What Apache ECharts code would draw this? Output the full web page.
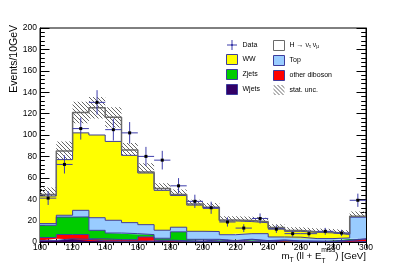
<!DOCTYPE html>
<html><head><meta charset="utf-8">
<script src="https://cdn.jsdelivr.net/npm/echarts@6/dist/echarts.min.js"></script>
<style>html,body{margin:0;padding:0;background:#fff}#c{width:407px;height:269px}</style>
</head><body><div id="c"></div>
<script>
// ---- data ----
const binEdges = [100,110,120,130,140,150,160,170,180,190,200,210,220,230,240,250,260,270,280,290,300];
const wjets   = [1.5, 3.0, 2.5, 1.0, 0.8, 0.8, 0.8, 1.2, 0.5, 0.5, 0.5, 0.3, 0.3, 0.3, 1.3, 0.3, 0.3, 0.3, 1.2, 0.3];
const diboson = [2.7, 4.0, 4.5, 2.0, 1.4, 1.4, 4.0, 0.6, 0.7, 0.5, 1.5, 0.7, 1.9, 0.7, 0.3, 0.5, 0.3, 0.3, 0.3, 2.5];
const zjets   = [11.4, 16.3, 16.4, 7.9, 6.2, 5.6, 2.1, 1.7, 8.3, 1.5, 0.5, 0.5, 0.4, 0.3, 0.3, 0.2, 0.2, 0.2, 0.3, 0.2];
const topq    = [1.6, 1.7, 6.2, 11.8, 11.9, 10.3, 9.3, 7.5, 4.3, 7.5, 7.3, 5.3, 5.2, 6.5, 2.8, 3.5, 2.4, 2.4, 2.0, 20.4];
const ww      = [25.8, 52.0, 72.4, 77.3, 73.7, 62.9, 48.3, 37.3, 29.7, 24.5, 21.7, 12.9, 11.3, 10.2, 7.8, 5.5, 5.8, 5.3, 3.2, 0];
const higgs   = [1.5, 8.0, 19.0, 25.5, 22.5, 5.0, 1.0, 1.7, 1.0, 1.0, 1.0, 0.8, 0.9, 1.0, 1.0, 0.8, 0.6, 0.7, 0.8, 0.6];
const statUnc = [6.5, 9, 10, 10, 9.5, 6.5, 8, 5, 4.5, 4, 4, 3.5, 3.5, 3.5, 3, 3, 3, 3, 3, 4.5];
const dataVals = [41, 72.5, 106, 130.5, 105, 102, 80, 76.5, 52.5, 38, 32, 18.7, 13, 22, 12, 7.8, 7.8, 10, 8.4, 39];
const dataErr  = [6.4, 8.5, 10.3, 11.4, 10.2, 10.1, 8.9, 8.7, 7.2, 6.2, 5.7, 4.3, 3.6, 4.7, 3.5, 2.8, 2.8, 3.2, 2.9, 6.2];
const xMin = 100, xMax = 300, xStep = 20;
const yMin = 0, yMax = 200, yStep = 20;

// ---- helpers ----
const FONT = '"Liberation Sans", Arial, Helvetica, sans-serif';
const LINE = '#3c3c9c';
// step-histogram values on the bin-edge category axis (last bin repeated at the right edge)
function steps(vals){ return vals.concat([vals[vals.length-1]]); }
const totals = binEdges.slice(0,-1).map((_,i)=>wjets[i]+diboson[i]+zjets[i]+topq[i]+ww[i]+higgs[i]);
const uncLow = totals.map((t,i)=>t-statUnc[i]);
const uncBand = statUnc.map(u=>2*u);
const dataPts = dataVals.map((v,i)=>[(binEdges[i]+binEdges[i+1])/2, v, dataErr[i], (binEdges[i+1]-binEdges[i])/2]);

const hatchCanvas = (()=>{ const c=document.createElement('canvas'); c.width=4; c.height=4; const g=c.getContext('2d');
  g.strokeStyle='#666666'; g.lineWidth=1; g.beginPath();
  g.moveTo(0,0); g.lineTo(4,4); g.moveTo(-1,3); g.lineTo(1,5); g.moveTo(3,-1); g.lineTo(5,1); g.stroke(); return c; })();
const hatchFill = { image: hatchCanvas, repeat: 'repeat' };

function histSeries(name, vals, extra){
  return Object.assign({ name, type:'line', xAxisIndex:2, yAxisIndex:0, step:'end', data: steps(vals),
    symbol:'none', silent:true }, extra);
}
function fillSeries(name, vals, color){
  return histSeries(name, vals, { stack:'mc', z:2, lineStyle:{color:LINE, width:1}, itemStyle:{color}, areaStyle:{color, opacity:1} });
}

// x-axis title pieces
const mctx = document.createElement('canvas').getContext('2d');
function tw(t,s){ mctx.font = s+'px '+FONT; return mctx.measureText(t).width; }
const BIG = 9.7, SM = 6.8, XT_RIGHT = 366, YC = 256.5;
function xTitle(){
  const els = [];
  const pieces = [['m',BIG,'n'],['T',SM,'sub'],[' (ll + E',BIG,'n'],['miss',SM,'sup'],[') [GeV]',BIG,'n']];
  const total = pieces.reduce((a,p)=>a+tw(p[0],p[1]),0);
  let x = XT_RIGHT - total;
  pieces.forEach(p=>{
    const yy = p[2]==='sub' ? YC+3.5 : p[2]==='sup' ? YC-6.5 : YC;
    els.push({type:'text', x, y:yy, style:{text:p[0], fontSize:p[1], fontFamily:FONT, fill:'#000',
      align:'left', verticalAlign:'middle', textAlign:'left', textVerticalAlign:'middle'}});
    if (p[2]==='sup') {
      els.push({type:'text', x, y:YC+5, style:{text:'T', fontSize:SM, fontFamily:FONT, fill:'#000',
        align:'left', verticalAlign:'middle', textAlign:'left', textVerticalAlign:'middle'}});
    }
    x += tw(p[0],p[1]);
  });
  return els;
}

const axisCommon = { axisLine:{show:true, lineStyle:{color:'#000', width:1}}, splitLine:{show:false} };
function xTicks(pos, labels){
  return Object.assign({type:'value', min:xMin, max:xMax, interval:xStep, position:pos,
    axisTick:{inside:true, length:6.5, lineStyle:{color:'#000'}},
    minorTick:{show:true, splitNumber:4, length:3.2, lineStyle:{color:'#000'}},
    axisLabel: labels ? {color:'#000', fontSize:8.5, fontFamily:FONT, margin:1.5} : {show:false}}, axisCommon);
}
function yTicks(pos, labels){
  return Object.assign({type:'value', min:yMin, max:yMax, interval:yStep, position:pos,
    axisTick:{inside:true, length:9.5, lineStyle:{color:'#000'}},
    minorTick:{show:true, splitNumber:5, length:4.8, lineStyle:{color:'#000'}},
    axisLabel: labels ? {color:'#000', fontSize:8.5, fontFamily:FONT, margin:3} : {show:false}}, axisCommon);
}

const chart = echarts.init(document.getElementById('c'), null, {renderer:'canvas'});
chart.setOption({
  animation:false,
  backgroundColor:'#fff',
  grid:{left:40, right:41, top:28, bottom:27, show:true, borderColor:'#000', borderWidth:1, containLabel:false, outerBoundsMode:'none'},
  xAxis:[
    xTicks('bottom', true),
    xTicks('top', false),
    {type:'category', data:binEdges.map(String), boundaryGap:false, show:false, position:'bottom'}
  ],
  yAxis:[ yTicks('left', true), yTicks('right', false) ],
  legend:[
    {left:226, top:40, orient:'vertical', itemWidth:11, itemHeight:10, itemGap:4, padding:0, selectedMode:false,
     textStyle:{fontSize:7, color:'#000', fontFamily:FONT},
     data:[
      {name:'Data', icon:'path://M0,4.5L10,4.5L10,5.5L0,5.5Z M4.5,0L5.5,0L5.5,10L4.5,10Z M4,4L6,4L6,6L4,6Z', itemStyle:{color:'#3d3daa'}},
      {name:'WW', icon:'rect', itemStyle:{color:'#ffff00', borderColor:LINE, borderWidth:1}},
      {name:'Zjets', icon:'rect', itemStyle:{color:'#00cc00', borderColor:LINE, borderWidth:1}},
      {name:'Wjets', icon:'rect', itemStyle:{color:'#330066', borderColor:LINE, borderWidth:1}}
     ]},
    {left:273, top:40, orient:'vertical', itemWidth:11, itemHeight:10, itemGap:4, padding:0, selectedMode:false,
     formatter:n=> n==='Higgs' ? '{t|H → ν}{s|τ}{t| ν}{s|μ}' : n,
     textStyle:{fontSize:7, color:'#000', fontFamily:FONT,
       rich:{t:{fontSize:7, color:'#000', fontFamily:FONT}, s:{fontSize:5, color:'#000', fontFamily:FONT, verticalAlign:'bottom'}}},
     data:[
      {name:'Higgs', icon:'rect', itemStyle:{color:'#ffffff', borderColor:'#6a6a6a', borderWidth:1}},
      {name:'Top', icon:'rect', itemStyle:{color:'#99ccff', borderColor:LINE, borderWidth:1}},
      {name:'other diboson', icon:'rect', itemStyle:{color:'#ff0000', borderColor:LINE, borderWidth:1}},
      {name:'stat. unc.', icon:'rect', itemStyle:{color:hatchFill, borderWidth:0}}
     ]}
  ],
  graphic: [
    {type:'text', x:14, y:25, rotation:Math.PI/2, style:{text:'Events/10GeV', fontSize:10.5, fontFamily:FONT, fill:'#000',
      align:'right', verticalAlign:'middle', textAlign:'right', textVerticalAlign:'middle'}}
  ].concat(xTitle()),
  series:[
    histSeries('uncLow', uncLow, {stack:'unc', z:1, lineStyle:{opacity:0}}),
    histSeries('stat. unc.', uncBand, {stack:'unc', z:1, lineStyle:{opacity:0}, itemStyle:{color:'#666666'},
      areaStyle:{color:hatchFill, opacity:1}}),
    fillSeries('Wjets', wjets, '#330066'),
    fillSeries('other diboson', diboson, '#ff0000'),
    fillSeries('Zjets', zjets, '#00cc00'),
    fillSeries('Top', topq, '#99ccff'),
    fillSeries('WW', ww, '#ffff00'),
    histSeries('Higgs', higgs, {stack:'mc', z:3, lineStyle:{color:'#6a6a6a', width:1.5}, itemStyle:{color:'#ffffff'}}),
    {name:'Data', type:'custom', xAxisIndex:0, yAxisIndex:0, z:5, silent:true, data:dataPts, itemStyle:{color:'#3d3daa'},
     renderItem:(params, api)=>{
       const x=api.value(0), y=api.value(1), e=api.value(2), hw=api.value(3);
       const c=api.coord([x,y]), l=api.coord([x-hw,y]), r=api.coord([x+hw,y]);
       const t=api.coord([x,y+e]), b=api.coord([x,y-e]);
       const st={stroke:'#3d3daa', lineWidth:1};
       return {type:'group', children:[
         {type:'line', shape:{x1:l[0], y1:c[1], x2:r[0], y2:c[1]}, style:st},
         {type:'line', shape:{x1:c[0], y1:t[1], x2:c[0], y2:b[1]}, style:st},
         {type:'rect', shape:{x:c[0]-1.5, y:c[1]-1.5, width:3, height:3}, style:{fill:'#000'}}
       ]};
     }}
  ]
});
</script>
</body></html>
